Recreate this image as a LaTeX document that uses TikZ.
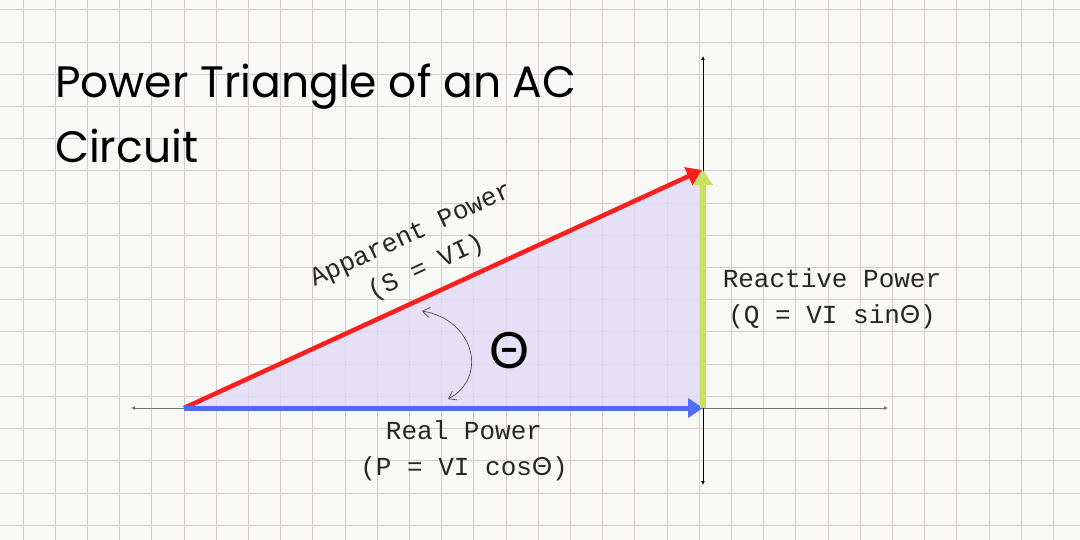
\documentclass[tikz,border=0pt]{standalone}
\usepackage{fontspec}
\newfontfamily\titlefont{Poppins}
\newfontfamily\monofont{Liberation Mono}
\newfontfamily\greekfont{Lato}
\usetikzlibrary{calc,arrows.meta}

\definecolor{paper}{RGB}{248,248,246}
\definecolor{gridcolor}{RGB}{212,205,203}
\definecolor{lavender}{RGB}{226,218,246}
\definecolor{realblue}{RGB}{78,110,250}
\definecolor{apparentred}{RGB}{250,30,30}
\definecolor{reactivegreen}{RGB}{200,225,95}
\definecolor{axisgray}{RGB}{115,115,115}

\newcommand{\thetasym}{{\greekfont\fontsize{25}{36}\selectfont Θ}}

\begin{document}
\begin{tikzpicture}[
 x=1pt, y=-1pt,
 gridrule/.style={draw=gridcolor,line width=1pt},
 axis/.style={line width=1pt,{Latex[length=4pt,width=4pt]}-{Latex[length=4pt,width=4pt]}},
 power/.style={line width=5pt,-{Triangle[length=15pt,width=19pt]}},
 anglearc/.style={black!70,line width=0.7pt,{Straight Barb[length=7pt,width=10pt]}-{Straight Barb[length=7pt,width=10pt]}},
 powerlabel/.style={align=center,text=black!85,font=\monofont\fontsize{26}{36}\selectfont},
]
\useasboundingbox (0,0) rectangle (1080,540);

% Paper and grid
\fill[paper] (0,0) rectangle (1080,540);
\foreach \k in {0,...,32}
    \draw[gridrule] (23+32.2*\k, 0) -- (23+32.2*\k, 540);
\foreach \k in {0,...,16}
    \draw[gridrule] (0, 10+32.2*\k) -- (1080, 10+32.2*\k);

% Corners of the triangle
\coordinate (O) at (184, 408);
\coordinate (P) at (703, 408);
\coordinate (Q) at (703, 170);

% Axes
\coordinate (xleft) at (131, 408);
\coordinate (xright) at (888, 408);
\coordinate (ytop) at (703, 56);
\coordinate (ybottom) at (703, 485);
\draw[axis,axisgray] (xleft) -- (xright);
\draw[axis,black] (ytop) -- (ybottom);

% Triangle
\fill[lavender,opacity=0.8] (O) -- (P) -- (Q) -- cycle;
\draw[power,apparentred,line width=4.5pt] (O) -- ([xshift=-1pt] Q);
\draw[power,realblue] (O) -- (P);
\draw[power,reactivegreen,line width=5.5pt] (P) -- (Q);

% Angle
\coordinate (arcstart) at (422, 311);
\coordinate (arcend) at (448, 399);
\draw[anglearc] (arcstart) .. controls (475, 320) and (488, 378) .. (arcend);
\node (theta) at (510, 351) {\greekfont\fontsize{50}{50}\selectfont Θ};

% Labels
\node[powerlabel] (real) at (464, 451) {Real Power\\(P = VI cos\thetasym)};
\node[powerlabel] (reactive) at (832, 299) {Reactive Power\\(Q = VI sin\thetasym)};
\node[powerlabel,rotate=24.6] (apparent) at (419, 252) {Apparent Power\\(S = VI)};

% Title
\node[anchor=base west,inner sep=0pt,font=\titlefont\fontsize{44}{44}\selectfont] (title) at (55, 98) {Power Triangle of an AC};
\node[anchor=base west,inner sep=0pt,font=\titlefont\fontsize{44}{44}\selectfont] (title2) at (55, 163) {Circuit};

\end{tikzpicture}
\end{document}
